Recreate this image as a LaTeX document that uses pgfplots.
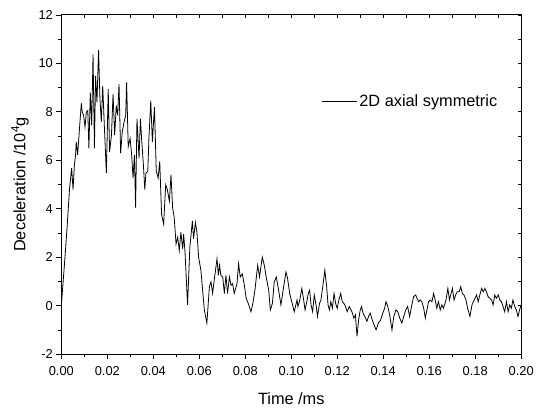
\documentclass[border=0pt]{standalone}
\usepackage{pgfplots}
\pgfplotsset{compat=1.18}
\usepackage{fontspec}
\setmainfont{Liberation Sans}
\pgfplotstableread{
x y
0.0000 0.00
0.0016 2.00
0.0026 3.36
0.0036 4.86
0.0045 5.67
0.0051 4.79
0.0057 5.81
0.0062 6.22
0.0065 6.76
0.0071 6.22
0.0080 7.44
0.0087 8.35
0.0091 7.99
0.0097 7.85
0.0103 7.37
0.0109 7.99
0.0115 8.05
0.0120 6.49
0.0126 8.80
0.0132 7.44
0.0138 10.37
0.0144 6.49
0.0149 9.48
0.0155 8.39
0.0162 10.54
0.0168 8.53
0.0174 7.58
0.0180 9.07
0.0187 7.44
0.0196 5.47
0.0204 8.93
0.0210 6.35
0.0218 7.03
0.0225 8.73
0.0232 7.03
0.0239 8.26
0.0245 7.85
0.0251 9.14
0.0258 6.29
0.0265 7.17
0.0273 7.58
0.0280 7.85
0.0284 9.21
0.0291 6.56
0.0299 6.90
0.0306 6.22
0.0312 5.27
0.0318 6.22
0.0323 4.04
0.0329 7.71
0.0338 6.08
0.0344 7.71
0.0349 6.90
0.0357 5.81
0.0363 4.79
0.0368 5.47
0.0376 5.54
0.0381 6.90
0.0389 8.46
0.0396 6.76
0.0405 8.19
0.0413 5.54
0.0421 5.27
0.0428 5.95
0.0436 3.77
0.0445 3.36
0.0454 4.99
0.0461 4.79
0.0470 4.31
0.0477 5.40
0.0484 4.04
0.0491 3.63
0.0499 2.54
0.0506 2.82
0.0513 2.27
0.0520 3.02
0.0528 2.34
0.0532 2.95
0.0538 2.20
0.0549 0.03
0.0559 2.41
0.0570 3.50
0.0575 2.75
0.0583 3.43
0.0590 3.02
0.0597 2.00
0.0607 1.46
0.0622 -0.18
0.0633 -0.72
0.0644 0.78
0.0651 0.98
0.0658 0.50
0.0665 1.05
0.0677 1.93
0.0683 1.25
0.0688 1.66
0.0694 1.25
0.0702 1.18
0.0709 0.50
0.0716 1.25
0.0723 0.50
0.0731 1.18
0.0738 0.84
0.0745 0.91
0.0752 0.50
0.0764 0.91
0.0771 1.73
0.0778 1.18
0.0787 1.31
0.0796 0.84
0.0804 0.30
0.0813 0.09
0.0825 -0.25
0.0833 0.09
0.0842 0.64
0.0854 1.66
0.0862 1.18
0.0874 2.00
0.0883 1.66
0.0891 1.18
0.0902 0.64
0.0909 -0.18
0.0918 0.09
0.0926 0.98
0.0935 1.18
0.0945 0.64
0.0955 0.03
0.0967 0.78
0.0977 1.39
0.0984 1.12
0.0993 0.50
0.1002 0.16
0.1013 -0.25
0.1025 0.23
0.1029 -0.04
0.1037 0.23
0.1046 0.71
0.1054 0.23
0.1060 -0.18
0.1069 0.23
0.1074 0.50
0.1080 0.64
0.1086 0.03
0.1093 -0.25
0.1100 0.44
0.1109 -0.04
0.1114 -0.45
0.1123 0.09
0.1129 0.23
0.1137 0.78
0.1146 1.46
0.1154 0.78
0.1160 0.03
0.1166 -0.18
0.1172 0.16
0.1179 -0.11
0.1186 0.50
0.1193 0.09
0.1200 -0.11
0.1207 0.23
0.1215 0.50
0.1222 0.16
0.1229 0.09
0.1236 -0.04
0.1243 -0.25
0.1252 -0.04
0.1260 -0.18
0.1266 -0.31
0.1272 -0.52
0.1279 -0.38
0.1286 -1.27
0.1293 -0.59
0.1300 -0.18
0.1306 -0.04
0.1312 -0.31
0.1320 -0.45
0.1329 -0.65
0.1336 -0.45
0.1343 -0.31
0.1352 -0.59
0.1360 -0.79
0.1369 -1.00
0.1379 -0.72
0.1389 -0.59
0.1398 -0.31
0.1406 -0.11
0.1412 0.16
0.1420 -0.04
0.1429 -0.45
0.1438 -1.00
0.1446 -0.45
0.1455 -0.18
0.1463 -0.25
0.1472 -0.52
0.1481 -0.72
0.1489 -0.45
0.1498 -0.18
0.1506 -0.04
0.1515 -0.45
0.1523 -0.04
0.1532 0.37
0.1541 0.44
0.1547 0.30
0.1554 0.16
0.1561 0.23
0.1568 0.16
0.1576 -0.11
0.1583 -0.52
0.1590 -0.18
0.1597 0.16
0.1604 0.23
0.1612 0.16
0.1619 0.50
0.1626 0.23
0.1633 -0.11
0.1640 0.16
0.1648 -0.18
0.1655 0.03
0.1662 -0.11
0.1673 0.23
0.1681 0.71
0.1688 0.23
0.1695 0.50
0.1701 0.71
0.1708 0.23
0.1715 0.44
0.1722 0.57
0.1730 0.57
0.1737 0.78
0.1744 0.50
0.1751 0.44
0.1760 0.23
0.1767 -0.11
0.1777 -0.45
0.1786 0.03
0.1792 0.16
0.1799 0.30
0.1806 0.44
0.1813 0.16
0.1820 0.44
0.1828 0.71
0.1835 0.57
0.1842 0.71
0.1849 0.57
0.1856 0.37
0.1864 0.30
0.1871 0.23
0.1878 0.03
0.1885 0.44
0.1892 0.30
0.1900 0.44
0.1907 0.23
0.1914 0.16
0.1921 -0.04
0.1928 -0.25
0.1936 0.16
0.1943 -0.25
0.1950 0.03
0.1957 -0.11
0.1964 0.23
0.1972 -0.04
0.1979 -0.18
0.1986 -0.45
0.1993 -0.18
0.2000 0.03
}\datatable
\begin{document}
\begin{tikzpicture}
\begin{axis}[
  name=ax,
  scale only axis,
  width=465pt, height=343pt,
  xmin=0, xmax=0.2, ymin=-2, ymax=12,
  xtick distance=0.02, ytick distance=2,
  minor x tick num=1, minor y tick num=1,
  xtick pos=left, ytick pos=left,
  tick align=outside,
  major tick length=5pt, minor tick length=3pt,
  tick style={black, line width=0.6pt},
  axis line style={line width=0.8pt},
  x tick label style={yshift=-4pt, /pgf/number format/.cd, fixed, fixed zerofill, precision=2, assume math mode=true},
  y tick label style={/pgf/number format/assume math mode=true},
  scaled x ticks=false,
  ticklabel style={font=\fontsize{13}{15}\selectfont},
  xlabel={Time /ms},
  ylabel={Deceleration /10\textsuperscript{4}g},
  label style={font=\fontsize{16.5}{19}\selectfont},
  xlabel style={yshift=-10pt},
  ylabel style={yshift=3pt},
  legend style={at={(0.56,0.744)}, anchor=west, draw=none, fill=none, font=\fontsize{16.5}{19}\selectfont},
  legend cell align=left,
  legend image code/.code={\draw[#1] (0cm,0cm) -- (35pt,0cm);},
]
\addplot[black, line width=0.8pt] table[x=x,y=y] {\datatable};
\addlegendentry{2D axial symmetric}
\end{axis}
\begin{axis}[
  scale only axis,
  width=465pt, height=343pt,
  xmin=0, xmax=0.2, ymin=-2, ymax=12,
  xtick distance=0.01, ytick distance=1,
  xtick pos=right, ytick pos=right,
  tick align=inside,
  major tick length=3pt,
  tick style={black, line width=0.6pt},
  axis line style={line width=0.8pt},
  xticklabels={}, yticklabels={},
]
\end{axis}
\path ([shift={(-62pt,-51pt)}]ax.south west) rectangle ([shift={(10pt,15pt)}]ax.north east);
\end{tikzpicture}
\end{document}
